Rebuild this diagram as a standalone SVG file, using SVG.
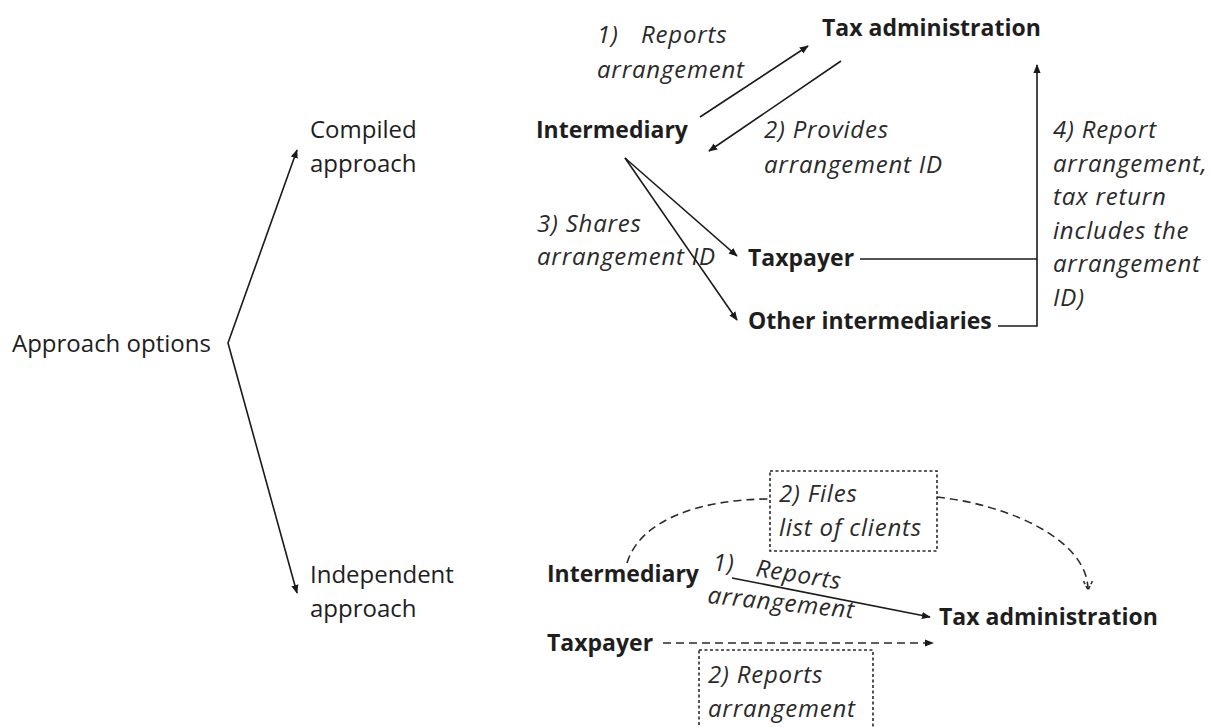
<svg xmlns="http://www.w3.org/2000/svg" width="1211" height="727" viewBox="0 0 1211 727">
  <style>
    text { font-family: "Open Sans", "Noto Sans", "DejaVu Sans", sans-serif; fill: #1e1e1e; }
    .reg { font-size: 24px; }
    .bold { font-size: 23px; font-weight: bold; }
    .ital { font-size: 24px; font-style: italic; letter-spacing: 0.8px; fill: #2a2a2a; }
    .line { fill: none; stroke: #1a1a1a; stroke-width: 1.6; }
    .dash { fill: none; stroke: #2a2a2a; stroke-width: 1.6; stroke-dasharray: 8 5; }
    .box { fill: none; stroke: #2a2a2a; stroke-width: 1.6; stroke-dasharray: 3 2.5; }
  </style>
  <defs>
    <marker id="arrow" viewBox="0 0 10 10" refX="9" refY="5" markerWidth="9" markerHeight="9" markerUnits="userSpaceOnUse" orient="auto-start-reverse">
      <path d="M0,1 L10,5 L0,9 z" fill="#1a1a1a"/>
    </marker>
    <marker id="open" viewBox="0 0 10 10" refX="9" refY="5" markerWidth="11" markerHeight="11" markerUnits="userSpaceOnUse" orient="auto">
      <path d="M1,1 L9,5 L1,9" fill="none" stroke="#2a2a2a" stroke-width="1.4" stroke-dasharray="3 2"/>
    </marker>
  </defs>

  <!-- root and the two approaches -->
  <g id="approach-options"><text class="reg" x="12" y="352">Approach options</text></g>
  <g id="compiled-approach">
    <text class="reg" x="310" y="138">Compiled</text>
    <text class="reg" x="310" y="172">approach</text>
  </g>
  <g id="independent-approach">
    <text class="reg" x="310" y="583">Independent</text>
    <text class="reg" x="310" y="617">approach</text>
  </g>

  <!-- compiled approach -->
  <g id="c-tax-admin"><text class="bold" x="822" y="36">Tax administration</text></g>
  <g id="c-intermediary"><text class="bold" x="536" y="138">Intermediary</text></g>
  <g id="c-taxpayer"><text class="bold" x="748" y="266">Taxpayer</text></g>
  <g id="c-other"><text class="bold" x="748" y="329">Other intermediaries</text></g>

  <g id="c-labels">
    <text class="ital" x="597" y="43">1)</text>
    <text class="ital" x="641" y="43">Reports</text>
    <text class="ital" x="597" y="78">arrangement</text>
    <text class="ital" x="764" y="138">2) Provides</text>
    <text class="ital" x="764" y="173">arrangement ID</text>
    <text class="ital" x="537" y="232">3) Shares</text>
    <text class="ital" x="537" y="265">arrangement ID</text>
    <text class="ital" x="1053" y="138">4) Report</text>
    <text class="ital" x="1053" y="172">arrangement,</text>
    <text class="ital" x="1053" y="205">tax return</text>
    <text class="ital" x="1053" y="239">includes the</text>
    <text class="ital" x="1053" y="272">arrangement</text>
    <text class="ital" x="1053" y="306">ID)</text>
  </g>

  <!-- independent approach -->
  <g id="i-intermediary"><text class="bold" x="547" y="582">Intermediary</text></g>
  <g id="i-taxpayer"><text class="bold" x="547" y="651">Taxpayer</text></g>
  <g id="i-tax-admin"><text class="bold" x="939" y="625">Tax administration</text></g>
  <g id="i-files-box">
    <rect class="box" x="770" y="471" width="167" height="80"/>
    <text class="ital" x="779" y="502">2) Files</text>
    <text class="ital" x="779" y="536">list of clients</text>
  </g>
  <g id="i-reports-box">
    <rect class="box" x="699" y="650" width="174" height="100"/>
    <text class="ital" x="708" y="683">2) Reports</text>
    <text class="ital" x="708" y="717">arrangement</text>
  </g>
  <g id="i-labels">
    <text class="ital" x="713" y="571">1)</text>
    <text class="ital" x="755" y="576" transform="rotate(9 755 576)">Reports</text>
    <text class="ital" x="707" y="603" transform="rotate(6 707 603)">arrangement</text>
  </g>

  <g id="connectors">
    <polyline class="line" points="297,150 228,343 297,593" marker-start="url(#arrow)" marker-end="url(#arrow)"/>
    <line class="line" x1="700" y1="117" x2="808" y2="46" marker-end="url(#arrow)"/>
    <line class="line" x1="841" y1="61" x2="709" y2="151" marker-end="url(#arrow)"/>
    <line class="line" x1="625" y1="158" x2="737" y2="256" marker-end="url(#arrow)"/>
    <line class="line" x1="625" y1="158" x2="737" y2="320" marker-end="url(#arrow)"/>
    <polyline class="line" points="860,259 1037,259"/>
    <polyline class="line" points="998,326 1037,326 1037,65" marker-end="url(#arrow)"/>
    <line class="line" x1="732" y1="578" x2="930" y2="617" marker-end="url(#arrow)"/>
    <line class="dash" x1="663" y1="643" x2="933" y2="643" marker-end="url(#arrow)"/>
    <path class="dash" d="M627,563 C640,520 700,499 770,499"/>
    <path class="dash" d="M937,497 C1010,505 1088,540 1088,590" marker-end="url(#open)"/>
  </g>
</svg>
